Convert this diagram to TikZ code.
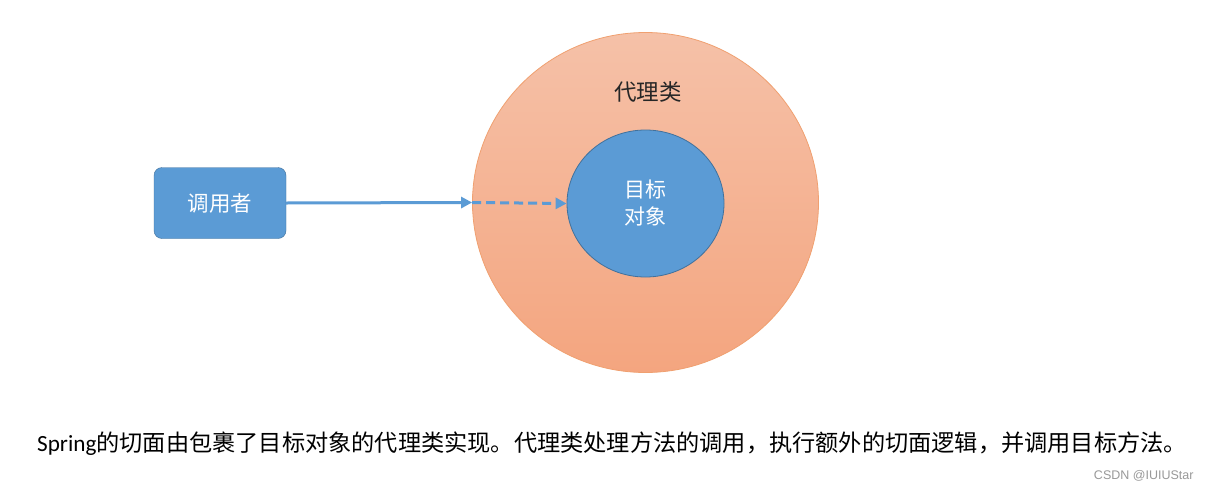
\documentclass[tikz,border=0pt]{standalone}
\usepackage{fontspec}
\setmainfont{Carlito}
\newfontfamily\cjk{Noto Sans CJK SC}
\newfontfamily\wmfont{Liberation Sans}
\usetikzlibrary{arrows.meta,shapes.geometric}
\definecolor{blueF}{HTML}{5B9BD5}
\definecolor{blueD}{HTML}{41719C}
\definecolor{orTop}{HTML}{F5C1A8}
\definecolor{orBot}{HTML}{F4A57F}
\definecolor{orEdge}{HTML}{F0A070}
\definecolor{txt}{HTML}{262626}
\tikzset{
  callerbox/.style={draw=blueD, fill=blueF, rounded corners=8pt, minimum width=132pt, minimum height=71pt, inner sep=0pt, text=white, font=\cjk\fontsize{21.5}{24}\selectfont},
  outerell/.style={ellipse, draw=orEdge, line width=0.8pt, top color=orTop, bottom color=orBot, minimum width=346pt, minimum height=340pt, inner sep=0pt},
  innerell/.style={ellipse, draw=blueD, line width=0.8pt, fill=blueF, minimum width=157pt, minimum height=147pt, inner sep=0pt, text=white, align=center, font=\cjk\fontsize{21}{27}\selectfont},
  conn/.style={draw=blueF, line width=3pt, -{Triangle[length=11pt,width=11pt]}},
  dashconn/.style={conn, dash pattern=on 9pt off 5pt},
}
\begin{document}
\begin{tikzpicture}[x=1pt,y=-1pt]
\useasboundingbox[fill=white] (0,0) rectangle (1212,490);
\node[outerell] (proxy) at (645.5,202.5) {};
\node[font=\cjk\fontsize{22.5}{24}\selectfont, text=txt] (plabel) at (648,92) {代理类};
\node[innerell] (target) at (645.5,203.5) {目标\\对象};
\node[callerbox] (caller) at (220,203) {调用者};
\coordinate (edge) at (proxy.west);
\draw[conn] (caller.east) -- (edge);
\draw[dashconn] (edge) -- (target.west);
\node[anchor=base, text=black, font=\fontsize{23.2}{28}\selectfont] (cap) at (612,451) {Spring{\cjk 的切面由包裹了目标对象的代理类实现。代理类处理方法的调用，执行额外的切面逻辑，并调用目标方法。}};
\node[anchor=base east, text=gray!80, font=\wmfont\fontsize{12.5}{14}\selectfont] (wm) at (1197,479) {CSDN @IUIUStar};
\end{tikzpicture}
\end{document}
